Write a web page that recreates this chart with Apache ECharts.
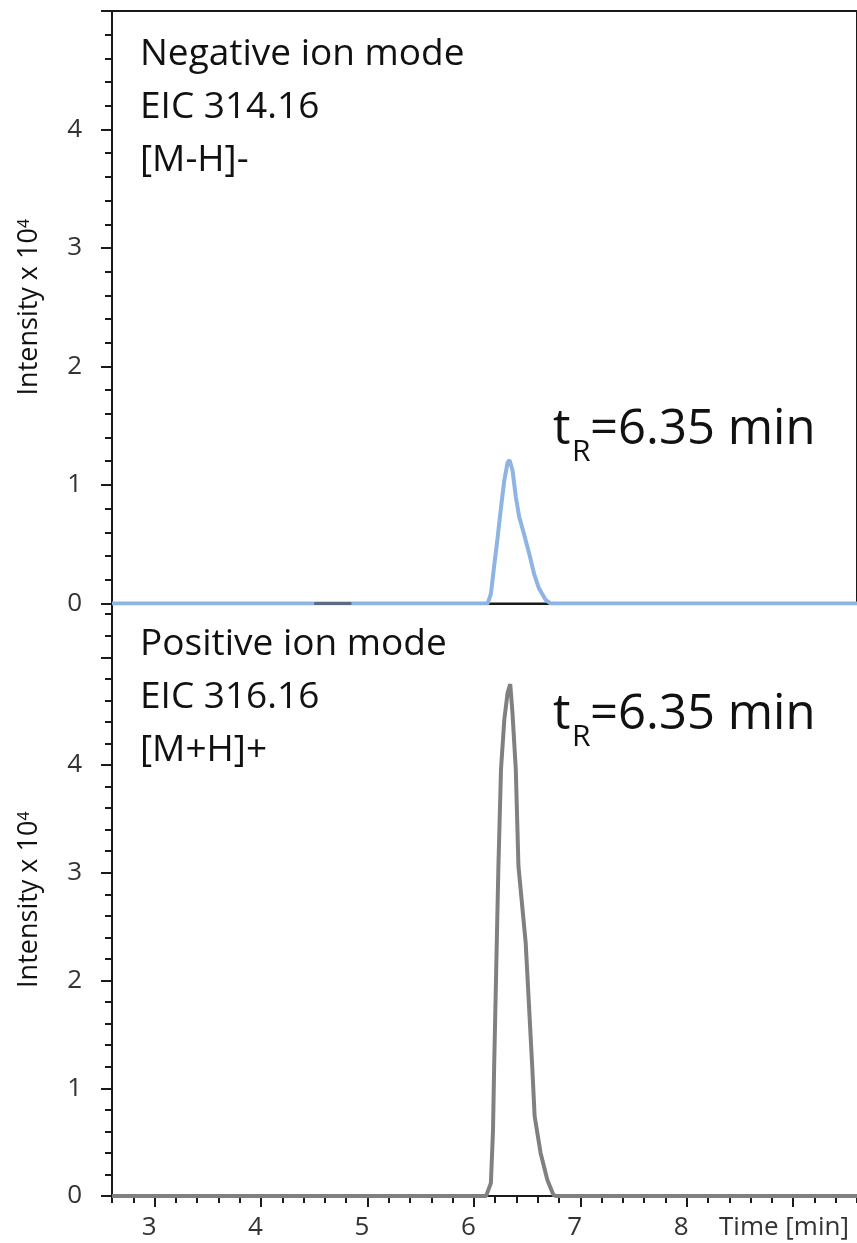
<!DOCTYPE html>
<html><head><meta charset="utf-8">
<script src="https://cdn.jsdelivr.net/npm/echarts@6/dist/echarts.min.js"></script>
<style>html,body{margin:0;padding:0;background:#fff}#c{width:857px;height:1243px}</style>
</head><body><div id="c"></div>
<script>
// ---- data ----
const negTime      = [2.6, 6.13, 6.16, 6.19, 6.22, 6.255, 6.286, 6.317, 6.335, 6.364, 6.394, 6.426, 6.47, 6.52, 6.566, 6.61, 6.674, 6.72, 9.6];
const negIntensity = [0,   0,    0.08, 0.31, 0.53, 0.81,  1.04,  1.19,  1.21,  1.12,  0.90,  0.73,  0.59, 0.42, 0.25,  0.13, 0.03,  0,    0];
const noiseTime      = [4.5, 4.85];
const noiseIntensity = [0, 0];
const posTime      = [2.6, 6.115, 6.16, 6.18, 6.19, 6.21, 6.23, 6.255, 6.286, 6.317, 6.342, 6.363, 6.394, 6.419, 6.487, 6.55, 6.571, 6.627, 6.69, 6.748, 6.77, 9.6];
const posIntensity = [0,   0,     0.12, 0.61, 1.17, 2.10, 3.03, 3.96,  4.42,  4.67,  4.75,  4.48,  3.96,  3.06,  2.35,  1.17, 0.74,  0.40,  0.15, 0.01,  0,    0];
const xMajorTicks = [3, 4, 5, 6, 7, 8, 9];
const xTickLabels = [3, 4, 5, 6, 7, 8];
const yMajorTicksTop = [0, 1, 2, 3, 4, 5];
const yMajorTicksBottom = [0, 1, 2, 3, 4, 5];
const yTickLabels = [0, 1, 2, 3, 4];
const X_MIN = 2.6, X_MAX = 9.6, Y_MAX_TOP = 5, Y_MAX_BOTTOM = 5.5;
function steps(a, b, s) { const r = []; for (let k = 0; a + k * s <= b + 1e-9; k++) r.push(Math.round((a + k * s) * 100) / 100); return r; }
const xMinorTicks = steps(2.6, 9.6, 0.2);
const yMinorTop = steps(0, 5, 0.2);
const yMinorBottom = steps(0, 5.4, 0.2);

const FONT = 'Open Sans';
const AX = {color: '#1a1a1a', width: 2};
const pairs = (xs, ys) => xs.map((x, i) => [x, ys[i]]);

const chart = echarts.init(document.getElementById('c'), null, {renderer: 'canvas'});
const yName = {
  name: '{a|Intensity x 10}{b|4}',
  nameLocation: 'middle', nameRotate: 90, nameGap: 67,
  nameTextStyle: {rich: {
    a: {fontFamily: FONT, fontSize: 27, color: '#111', lineHeight: 32},
    b: {fontFamily: FONT, fontSize: 16, color: '#111', verticalAlign: 'bottom', padding: [0, 0, 13, 0]}
  }}
};
const yLabel = (vals) => ({customValues: vals, fontFamily: FONT, fontSize: 26, color: '#333', margin: 30, padding: [7, 0, 0, 0]});
const txt = (x, y, s, size, color) => ({type: 'text', x: x, y: y, style: {text: s, fontFamily: FONT, fontSize: size, fill: color || '#111', verticalAlign: 'middle'}});

chart.setOption({
  backgroundColor: '#fff',
  animation: false,
  grid: [
    {left: 112, top: 11, right: -6, bottom: 639.6, show: true, borderColor: '#1a1a1a', borderWidth: 2, backgroundColor: 'transparent'},
    {left: 112, top: 603.4, right: -6, bottom: 47}
  ],
  xAxis: [
    {gridIndex: 0, type: 'value', min: X_MIN, max: X_MAX, axisLine: {lineStyle: AX}, axisTick: {show: false}, axisLabel: {show: false}, splitLine: {show: false}},
    {gridIndex: 1, type: 'value', min: X_MIN, max: X_MAX, position: 'bottom', axisLine: {lineStyle: AX},
      axisTick: {customValues: xMinorTicks, length: 7, lineStyle: AX}, axisLabel: {show: false}, splitLine: {show: false}},
    {gridIndex: 1, type: 'value', min: X_MIN, max: X_MAX, position: 'bottom', axisLine: {show: false},
      axisTick: {customValues: xMajorTicks, length: 11, lineStyle: AX},
      axisLabel: {customValues: xTickLabels, fontFamily: FONT, fontSize: 26, color: '#333', margin: 19, padding: [0, 11, 0, 0]},
      splitLine: {show: false}}
  ],
  yAxis: [
    {gridIndex: 0, type: 'value', min: 0, max: Y_MAX_TOP, position: 'left', axisLine: {show: true, lineStyle: AX},
      axisTick: {show: true, customValues: yMinorTop, length: 7, lineStyle: AX}, axisLabel: {show: false}, splitLine: {show: false}},
    Object.assign({gridIndex: 0, type: 'value', min: 0, max: Y_MAX_TOP, position: 'left', axisLine: {show: false},
      axisTick: {show: true, customValues: yMajorTicksTop, length: 11, lineStyle: AX}, axisLabel: yLabel(yTickLabels), splitLine: {show: false}}, yName),
    {gridIndex: 1, type: 'value', min: 0, max: Y_MAX_BOTTOM, position: 'left', axisLine: {show: true, lineStyle: AX},
      axisTick: {show: true, customValues: yMinorBottom, length: 7, lineStyle: AX}, axisLabel: {show: false}, splitLine: {show: false}},
    Object.assign({gridIndex: 1, type: 'value', min: 0, max: Y_MAX_BOTTOM, position: 'left', axisLine: {show: false},
      axisTick: {show: true, customValues: yMajorTicksBottom, length: 11, lineStyle: AX}, axisLabel: yLabel(yTickLabels), splitLine: {show: false}}, yName)
  ],
  series: [
    {type: 'line', name: 'Negative EIC 314.16', xAxisIndex: 0, yAxisIndex: 0, data: pairs(negTime, negIntensity),
      showSymbol: false, lineStyle: {color: '#8db4e2', width: 4}, z: 3},
    {type: 'line', name: 'noise', xAxisIndex: 0, yAxisIndex: 0, data: pairs(noiseTime, noiseIntensity),
      showSymbol: false, lineStyle: {color: '#5b6b80', width: 3}, z: 4},
    {type: 'line', name: 'Positive EIC 316.16', xAxisIndex: 1, yAxisIndex: 2, data: pairs(posTime, posIntensity),
      showSymbol: false, lineStyle: {color: '#808080', width: 4}, z: 3}
  ],
  graphic: [
    txt(140, 54.5, 'Negative ion mode', 37),
    txt(140, 107.5, 'EIC 314.16', 37),
    txt(140, 160.5, '[M-H]-', 37),
    txt(140, 644, 'Positive ion mode', 37),
    txt(140, 697, 'EIC 316.16', 37),
    txt(140, 750, '[M+H]+', 37),
    txt(553, 430, 't', 49),
    txt(572, 452, 'R', 30),
    txt(590, 430, '=6.35 min', 49),
    txt(553, 715, 't', 49),
    txt(572, 737, 'R', 30),
    txt(590, 715, '=6.35 min', 49),
    txt(719, 1228, 'Time [min]', 26, '#333')
  ]
});
</script></body></html>
